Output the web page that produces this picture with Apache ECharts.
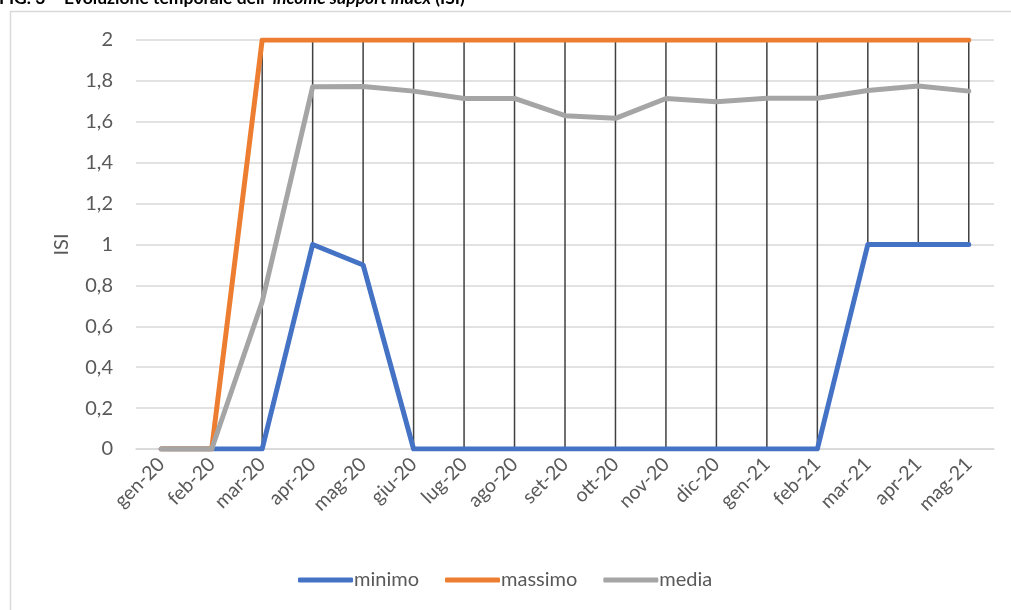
<!DOCTYPE html>
<html>
<head>
<meta charset="utf-8">
<style>
  html, body { margin: 0; padding: 0; background: #fff; }
  #chart { width: 1011px; height: 610px; }
</style>
<script src="https://cdn.jsdelivr.net/npm/echarts@6/dist/echarts.min.js"></script>
</head>
<body>
<div id="chart"></div>
<script>
// data
const months = ['gen-20', 'feb-20', 'mar-20', 'apr-20', 'mag-20', 'giu-20', 'lug-20', 'ago-20',
  'set-20', 'ott-20', 'nov-20', 'dic-20', 'gen-21', 'feb-21', 'mar-21', 'apr-21', 'mag-21'];
const minimo = [0, 0, 0, 1, 0.9, 0, 0, 0, 0, 0, 0, 0, 0, 0, 1, 1, 1];
const massimo = [0, 0, 2, 2, 2, 2, 2, 2, 2, 2, 2, 2, 2, 2, 2, 2, 2];
const media = [0, 0, 0.72, 1.771, 1.773, 1.75, 1.714, 1.714, 1.63, 1.617, 1.714, 1.698, 1.715, 1.715, 1.753, 1.775, 1.75];

const FONT = 'Lato, "Open Sans", sans-serif';

// high-low lines: lowest to highest value at each month
const highLow = months.map((m, i) => {
  const vals = [minimo[i], massimo[i], media[i]];
  return [i, Math.min(...vals), Math.max(...vals)];
}).filter(d => d[2] > d[1]);

const chart = echarts.init(document.getElementById('chart'));

const lineSeries = (name, data, color) => ({
  name,
  type: 'line',
  data,
  symbol: 'none',
  z: 3,
  lineStyle: { width: 5, color, cap: 'round', join: 'round' },
  itemStyle: { color }
});

chart.setOption({
  animation: false,
  graphic: [
    {
      type: 'rect',
      shape: { x: 10.5, y: 11.5, width: 1100, height: 700 },
      style: { fill: null, stroke: '#d9d9d9', lineWidth: 1.5 }
    },
    {
      type: 'text',
      left: -1,
      top: -11,
      style: {
        text: '{b|FIG. 3 – Evoluzione temporale dell’ }{i|income support index}{b| (ISI)}',
        rich: {
          b: { fontFamily: FONT, fontWeight: 'bold', fontSize: 17.5, fill: '#000' },
          i: { fontFamily: FONT, fontWeight: 'bold', fontStyle: 'italic', fontSize: 17.5, fill: '#000' }
        }
      }
    }
  ],
  grid: { left: 136, right: 17, top: 40, bottom: 161, containLabel: false },
  legend: {
    data: ['minimo', 'massimo', 'media'],
    left: 293,
    top: 565,
    icon: 'roundRect',
    itemWidth: 55,
    itemHeight: 5,
    itemGap: 26,
    textStyle: { fontFamily: FONT, fontSize: 20, color: '#595959', padding: [0, 0, 0, -4] }
  },
  xAxis: {
    type: 'category',
    data: months,
    boundaryGap: true,
    axisLine: { lineStyle: { color: '#d9d9d9', width: 1.5 } },
    axisTick: { show: false },
    axisLabel: { rotate: 45, margin: 12, interval: 0, fontFamily: FONT, fontSize: 19.5, color: '#595959' }
  },
  yAxis: {
    type: 'value',
    min: 0,
    max: 2,
    interval: 0.2,
    name: 'ISI',
    nameLocation: 'middle',
    nameRotate: 90,
    nameGap: 64,
    nameTextStyle: { fontFamily: FONT, fontSize: 20, color: '#595959' },
    axisLine: { show: false },
    axisTick: { show: false },
    splitLine: { lineStyle: { color: '#d9d9d9', width: 1.5 } },
    axisLabel: {
      margin: 23,
      fontFamily: FONT,
      fontSize: 20,
      color: '#595959',
      formatter: v => String(+v.toFixed(1)).replace('.', ',')
    }
  },
  series: [
    {
      name: 'hl',
      type: 'custom',
      data: highLow,
      z: 2,
      silent: true,
      renderItem: (params, api) => {
        const p1 = api.coord([api.value(0), api.value(1)]);
        const p2 = api.coord([api.value(0), api.value(2)]);
        return {
          type: 'line',
          shape: { x1: p1[0], y1: p1[1], x2: p2[0], y2: p2[1] },
          style: { stroke: '#404040', lineWidth: 1.5 }
        };
      }
    },
    lineSeries('minimo', minimo, '#4472c4'),
    lineSeries('massimo', massimo, '#ed7d31'),
    lineSeries('media', media, '#a5a5a5')
  ]
});
</script>
</body>
</html>
